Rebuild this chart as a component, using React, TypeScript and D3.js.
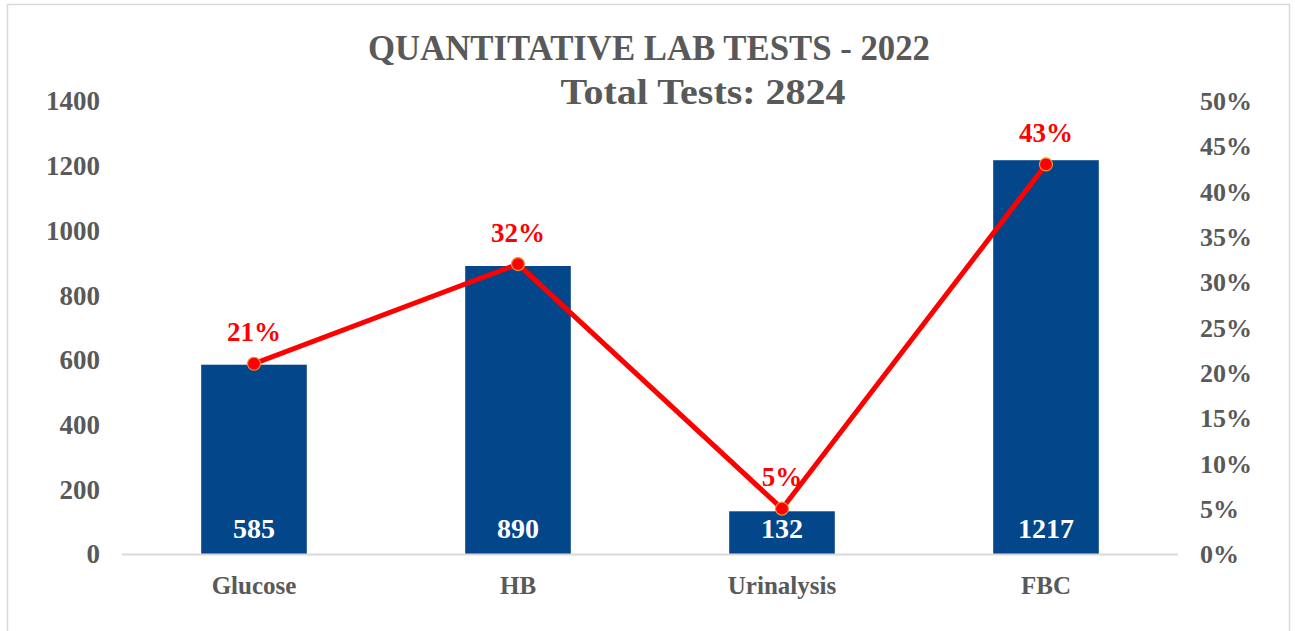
import React from "react";
import * as d3 from "d3";

const categories = ["Glucose", "HB", "Urinalysis", "FBC"];
const counts = [585, 890, 132, 1217];
const shares = [0.21, 0.32, 0.05, 0.43];
const leftTicks = [0, 200, 400, 600, 800, 1000, 1200, 1400];
const rightTicks = [0, 0.05, 0.1, 0.15, 0.2, 0.25, 0.3, 0.35, 0.4, 0.45, 0.5];
const titleLine1 = "QUANTITATIVE LAB TESTS - 2022";
const titleLine2 = "Total Tests: 2824";

const W = 1295;
const H = 631;
const FONT = "'Liberation Serif', 'Times New Roman', serif";
const GRAY = "#595959";
const BLUE = "#03468a";
const RED = "#ff0000";

export default function App() {
  const x0 = 122;
  const x1 = 1178;
  const yTop = 101;
  const yBot = 554;

  const x = d3.scaleBand<string>().domain(categories).range([x0, x1]).paddingInner(0.6).paddingOuter(0.3);
  const yL = d3.scaleLinear().domain([0, 1400]).range([yBot, yTop]);
  const yR = d3.scaleLinear().domain([0, 0.5]).range([yBot, yTop]);

  const cx = (c: string) => (x(c) ?? 0) + x.bandwidth() / 2;

  const line = d3
    .line<number>()
    .x((_, i) => cx(categories[i]))
    .y((d) => yR(d));

  return (
    <svg
      width={W}
      height={H}
      style={{ position: "fixed", left: 0, top: 0, background: "#fff" }}
      fontFamily={FONT}
    >
      <rect x={0} y={0} width={W} height={H} fill="#fff" />
      <rect x={7.5} y={4.5} width={1282} height={700} fill="none" stroke="#d9d9d9" strokeWidth={1.5} />

      <text x={649} y={60} textAnchor="middle" fontSize={36} fontWeight="bold" fill={GRAY} textLength={562} lengthAdjust="spacingAndGlyphs">
        {titleLine1}
      </text>
      <text x={703} y={104} textAnchor="middle" fontSize={36} fontWeight="bold" fill={GRAY} textLength={285} lengthAdjust="spacingAndGlyphs">
        {titleLine2}
      </text>

      {leftTicks.map((t) => (
        <text key={"l" + t} x={100} y={yL(t)} dy="0.35em" textAnchor="end" fontSize={27} fontWeight="bold" fill={GRAY}>
          {t}
        </text>
      ))}
      {rightTicks.map((t) => (
        <text key={"r" + t} x={1200} y={yR(t)} dy="0.35em" textAnchor="start" fontSize={26} fontWeight="bold" fill={GRAY}>
          {d3.format(".0%")(t)}
        </text>
      ))}

      {categories.map((c, i) => (
        <rect key={c} x={x(c)} y={yL(counts[i])} width={x.bandwidth()} height={yBot - yL(counts[i])} fill={BLUE} />
      ))}

      <line x1={x0} x2={x1} y1={yBot + 0.5} y2={yBot + 0.5} stroke="#d9d9d9" strokeWidth={2} />

      {categories.map((c, i) => (
        <text key={"v" + c} x={cx(c)} y={528} dy="0.35em" textAnchor="middle" fontSize={28} fontWeight="bold" fill="#fff">
          {counts[i]}
        </text>
      ))}

      {categories.map((c) => (
        <text key={"c" + c} x={cx(c)} y={585} dy="0.35em" textAnchor="middle" fontSize={25} fontWeight="bold" fill={GRAY}>
          {c}
        </text>
      ))}

      <path d={line(shares) ?? ""} fill="none" stroke={RED} strokeWidth={5} strokeLinejoin="round" strokeLinecap="round" />
      {shares.map((s, i) => (
        <circle key={"m" + i} cx={cx(categories[i])} cy={yR(s)} r={6.5} fill={RED} stroke="#f0913a" strokeWidth={1.2} />
      ))}
      {shares.map((s, i) => (
        <text key={"p" + i} x={cx(categories[i])} y={yR(s) - 32} dy="0.35em" textAnchor="middle" fontSize={27} fontWeight="bold" fill={RED}>
          {d3.format(".0%")(s)}
        </text>
      ))}
    </svg>
  );
}
